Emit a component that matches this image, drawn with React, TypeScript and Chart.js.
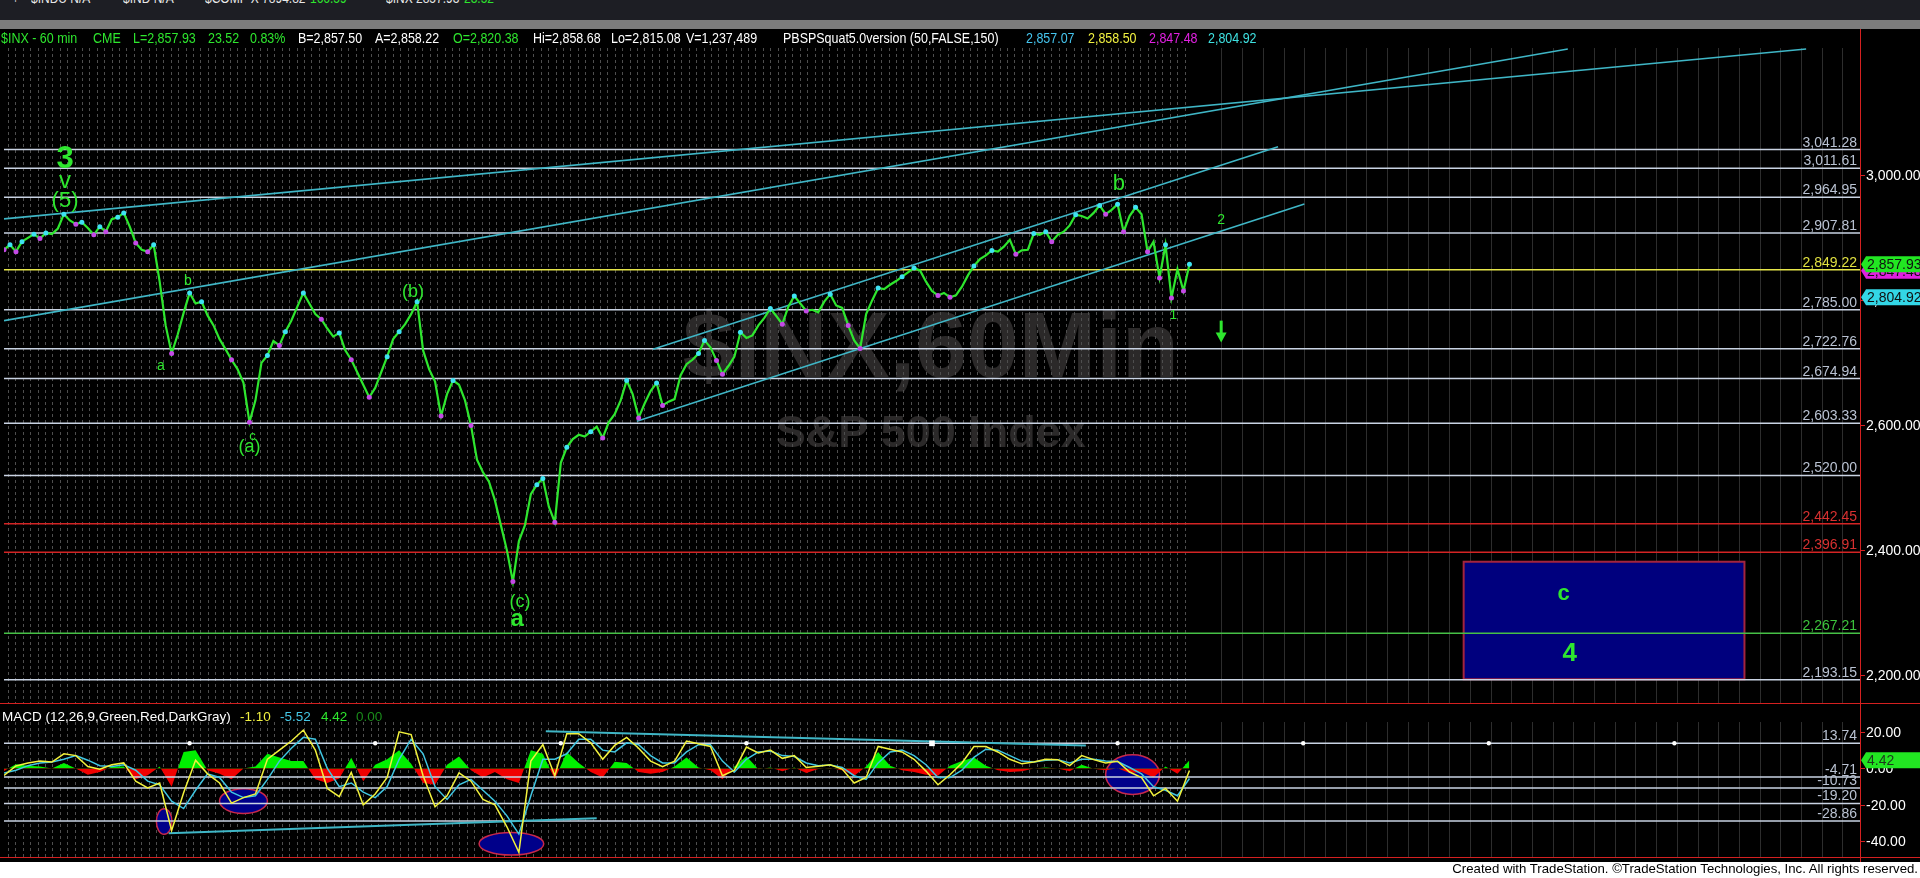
import React, { useEffect, useRef } from "react";
import { Chart, registerables } from "chart.js";

Chart.register(...registerables);

const FONT = "'Liberation Sans', Arial, Helvetica, sans-serif";

// ---------------- DATA ----------------
// hourly closes of $INX (one value per bar index)
const priceClose = [
  2881, 2889, 2878, 2894, 2900, 2906, 2899, 2908, 2906, 2915,
  2938, 2928, 2922, 2925, 2916, 2905, 2918, 2910, 2930, 2933,
  2940, 2918, 2892, 2881, 2878, 2889, 2830, 2760, 2715, 2745,
  2780, 2812, 2795, 2798, 2776, 2760, 2738, 2722, 2705, 2690,
  2668, 2605, 2640, 2700, 2712, 2735, 2728, 2750, 2768, 2790,
  2812, 2795, 2778, 2770, 2755, 2742, 2748, 2720, 2705, 2685,
  2665, 2645, 2660, 2685, 2710, 2738, 2750, 2762, 2778, 2798,
  2720, 2690, 2670, 2615, 2650, 2672, 2665, 2640, 2600, 2545,
  2525, 2510, 2480, 2440, 2400, 2350, 2415, 2440, 2490, 2505,
  2515, 2470, 2445, 2540, 2565, 2578, 2585, 2582, 2590, 2598,
  2580, 2605, 2618, 2640, 2672, 2650, 2612, 2635, 2655, 2668,
  2632, 2638, 2642, 2680, 2698, 2705, 2715, 2736, 2725, 2704,
  2682, 2695, 2710, 2749, 2740, 2744, 2760, 2772, 2787, 2775,
  2762, 2790, 2807, 2795, 2783, 2785, 2781, 2798, 2810, 2792,
  2788, 2760, 2736, 2723, 2778, 2800, 2820, 2818, 2825, 2831,
  2838, 2845, 2852, 2848, 2830, 2815, 2808, 2812, 2805, 2808,
  2822, 2840, 2855, 2866, 2872, 2880, 2878, 2886, 2897, 2874,
  2880, 2881, 2907, 2905, 2910, 2894, 2905, 2910, 2920, 2937,
  2935, 2931, 2940, 2952, 2938, 2945, 2954, 2910, 2935, 2949,
  2938, 2878, 2894, 2836, 2889, 2804, 2850, 2815, 2858,
];
// PBSPSquat dots (bar indices)
const cyanDotIdx = [1, 3, 5, 7, 10, 13, 16, 19, 20, 25, 31, 33, 44, 47, 50, 56, 64, 66, 69, 75, 89, 90, 94, 98, 104, 109, 116, 117, 123, 128, 132, 138, 146, 150, 152, 162, 165, 172, 174, 179, 183, 186, 189, 194, 198];
const magentaDotIdx = [0, 2, 6, 12, 15, 17, 22, 24, 28, 38, 41, 46, 53, 58, 61, 73, 78, 85, 92, 100, 106, 110, 119, 120, 130, 134, 141, 143, 156, 158, 169, 175, 184, 187, 191, 193, 195, 197];

const priceLevels = [3041.28, 3011.61, 2964.95, 2907.81, 2849.22, 2785.0, 2722.76, 2674.94, 2603.33, 2520.0, 2442.45, 2396.91, 2267.21, 2193.15];
const priceLevelKind = ["w", "w", "w", "w", "y", "w", "w", "w", "w", "w", "r", "r", "g", "w"];
const priceAxisTicks = [3000, 2800, 2600, 2400, 2200];
// [index0, price0, index1, price1]
const priceTrendlines = [
  [0, 2930.4, 301, 3202.4],
  [0, 2767.6, 261.2, 3202.4],
  [108.4, 2722.0, 212.8, 3045.8],
  [105.7, 2606.6, 217.2, 2954.2],
];
const priceTagValues = [2847.48, 2857.93, 2804.92];
const priceTagKind = ["m", "g", "c"];

const targetBoxIdx = [243.8, 290.7];
const targetBoxPrice = [2193.7, 2381.8];

const waveLabelText = ["3", "v", "(5)", "b", "a", "c", "(a)", "(b)", "(c)", "a", "b", "2", "1", "c", "4"];
const waveLabelIdx = [10.2, 10.2, 10.2, 30.7, 26.2, 41.5, 41, 68.3, 86.2, 85.7, 186.2, 203.3, 195.3, 260.5, 261.5];
const waveLabelPrice = [3025, 2990, 2959, 2831, 2695, 2582.6, 2565, 2813.4, 2317, 2289, 2987, 2929, 2775.5, 2329.6, 2234.8];
const downArrow = [203.3, 2767.6, 2732.8];

// MACD (one value every 2 bars)
const macdLine = [
  -3.9, 1.3, 3, 4, 3.5, 8, 7, 1, -0.5, 2,
  3, -7, -10.7, -8, -34, -13.3, 4.5, -3, -8, -19,
  -16, -14, 5, 10, 15, 21, 10, -11, -15.5, -2.2,
  -20, -14, -5, 20, 18.5, -4, -21, -15, -2.5, -7,
  -17, -20, -32, -46, 4, 13, -4, 19, 19, 14,
  5, 12.6, 17, 11, 4, 1, 4, 15, 13.5, 12,
  -4, -1, 11.7, 8.5, 10, 5.5, 7, 0.5, 1.2, 2,
  -0.4, -8, -5, 12, 10.5, 9, 5, -1.5, -9, -3.5,
  3, 12, 12, 9, 5, 2.5, 3.5, 5, 4.8, 1.5,
  7, 4.8, 3, 3.9, -2, -5, -15, -11, -18, -1.1,
];
const macdSignal = [
  -2.5, -1, 1.5, 3, 3.5, 5, 7, 4.5, 1.5, 1,
  2, -1, -7, -9, -18, -22, -12, -3, -5, -13,
  -16, -15, -6, 4, 11, 17, 16, 0, -10, -8,
  -13, -16, -10, 5, 16, 8, -10, -17, -9, -6,
  -12, -18, -26, -36, -15, 5, 5, 8, 16, 16,
  10, 9, 14, 13, 7, 3, 3, 9, 13, 13,
  4, -2, 5, 9, 9.5, 7, 6.5, 3, 1.5, 1.8,
  0.5, -4, -6, 3, 9, 10, 7, 2, -5, -5,
  -1, 6, 10.5, 10, 7, 4, 3.5, 4.5, 4.8, 3,
  5, 5, 4, 3.8, 0.5, -3, -10, -12, -15, -5.52,
];
const macdHist = [
  -1.4, 2.3, 1.5, 1, 0, 3, 0, -3.5, -2, 1,
  1, -6, -3.7, 1, -10, 9, 10, -1, -3, -6,
  0, 1, 8, 6, 4, 4, -6, -8, -5.5, 5.8,
  -7, 2, 5, 10, 2.5, -8, -9, 2, 6.5, -1,
  -5, -2, -6, -8, 10, 8, -6, 9, 3, -2,
  -5, 3.6, 3, -2, -3, -2, 1, 6, 0.5, -1,
  -6, 1, 6.7, -0.5, 0.5, -1.5, 0.5, -2.5, -0.3, 0.2,
  -1, -4, 1, 9, 1.5, -1, -2, -3.5, -4, 1.5,
  4, 6, 1.5, -1, -2, -1.5, 0, 0.5, 0, -1.5,
  2, -0.2, -1, 0.1, -2.5, -2, -5, 1, -3, 4.42,
];
const macdLevels = [13.74, -4.71, -10.73, -19.2, -28.86];
const macdAxisTicks = [20, 0, -20, -40];
const macdTrendlines = [
  [27.5, -35.5, 99, -27.3],
  [90.5, 20.4, 180.7, 12.6],
];
const macdHandleIdx = [31, 62, 93, 124, 155, 186, 217, 248, 279];
const macdTagValue = 4.42;
// ellipses: [centerIdx, centerValue, radiusIdx, radiusValue]
const macdEllipses = [
  [26.75, -29.1, 1.3, 7],
  [40, -17.9, 4, 6.8],
  [84.75, -41.3, 5.4, 6.2],
  [188.5, -3.4, 4.5, 10.9],
];

// ---------------- STYLE ----------------
const X_MAX = 310;
const GREEN = "#2ee62e";
const LEVEL_LINE: any = { w: "#c9d3e3", y: "#e6e64a", r: "#d42424", g: "#46c046" };
const LEVEL_TEXT: any = { w: "#b9c2d2", y: "#e0e040", r: "#d83030", g: "#3cc43c" };
const TAG_BG: any = { g: "#22e622", m: "#e020e0", c: "#33d6e6" };
const WAVE_FONT = ["bold 31px", "24px", "22px", "14px", "14px", "13px", "18px", "18px", "18px", "bold 24px", "22px", "14px", "13px", "bold 22px", "bold 26px"];
const fmt = (v: number) => v.toLocaleString("en-US", { minimumFractionDigits: 2, maximumFractionDigits: 2 });

function drawVGrid(chart: any, yTop: number) {
  const { ctx, chartArea: a, scales } = chart;
  const dataEnd = scales.x.getPixelForValue(priceClose.length - 1) + 1;
  ctx.save();
  ctx.lineWidth = 1;
  ctx.strokeStyle = "#4e4e4e";
  ctx.setLineDash([3, 3]);
  ctx.beginPath();
  for (let px = a.left + 4; px < dataEnd; px += 7.4) {
    const X = Math.round(px) + 0.5;
    ctx.moveTo(X, yTop);
    ctx.lineTo(X, a.bottom);
  }
  ctx.stroke();
  ctx.setLineDash([]);
  ctx.strokeStyle = "#2d2d2d";
  ctx.beginPath();
  for (let px = dataEnd + 31; px < a.right; px += 20.7) {
    const X = Math.round(px) + 0.5;
    ctx.moveTo(X, yTop);
    ctx.lineTo(X, a.bottom);
  }
  ctx.stroke();
  ctx.restore();
}

function drawTag(ctx: any, left: number, py: number, text: string, bg: string, fg: string) {
  ctx.save();
  ctx.fillStyle = bg;
  ctx.beginPath();
  ctx.moveTo(left + 1, py);
  ctx.lineTo(left + 6, py - 8);
  ctx.lineTo(1920, py - 8);
  ctx.lineTo(1920, py + 8);
  ctx.lineTo(left + 6, py + 8);
  ctx.closePath();
  ctx.fill();
  ctx.fillStyle = fg;
  ctx.font = `14px ${FONT}`;
  ctx.textBaseline = "middle";
  ctx.textAlign = "left";
  ctx.fillText(text, left + 7, py + 1);
  ctx.restore();
}

function drawAxis(chart: any, ticks: number[]) {
  const { ctx, chartArea: a, scales } = chart;
  ctx.save();
  ctx.strokeStyle = "#d42020";
  ctx.lineWidth = 1;
  ctx.beginPath();
  ctx.moveTo(a.right + 0.5, 0);
  ctx.lineTo(a.right + 0.5, chart.height);
  ctx.moveTo(0, a.bottom - 0.5);
  ctx.lineTo(chart.width, a.bottom - 0.5);
  ticks.forEach((v) => {
    const py = Math.round(scales.y.getPixelForValue(v)) + 0.5;
    ctx.moveTo(a.right, py);
    ctx.lineTo(a.right + 5, py);
  });
  ctx.stroke();
  ctx.fillStyle = "#ffffff";
  ctx.font = `14px ${FONT}`;
  ctx.textBaseline = "middle";
  ctx.textAlign = "left";
  ticks.forEach((v) => ctx.fillText(fmt(v), a.right + 6, scales.y.getPixelForValue(v) + 1));
  ctx.restore();
}

function drawLevelLabels(chart: any, levels: number[], kinds: string[]) {
  const { ctx, chartArea: a, scales } = chart;
  ctx.save();
  ctx.font = `14px ${FONT}`;
  ctx.textAlign = "right";
  ctx.textBaseline = "alphabetic";
  levels.forEach((v, i) => {
    ctx.fillStyle = LEVEL_TEXT[kinds[i]];
    ctx.fillText(fmt(v), a.right - 3, scales.y.getPixelForValue(v) - 3);
  });
  ctx.restore();
}

const pricePlugin = {
  id: "priceDecor",
  beforeDatasetsDraw(chart: any) {
    const { ctx, scales } = chart;
    const { x, y } = scales;
    ctx.save();
    ctx.fillStyle = "#2b2929";
    ctx.textAlign = "center";
    ctx.textBaseline = "alphabetic";
    ctx.font = `bold 93px ${FONT}`;
    ctx.fillText("$INX,60Min", x.getPixelForValue(154.8), y.getPixelForValue(2677));
    ctx.font = `bold 45px ${FONT}`;
    ctx.fillText("S&P 500 Index", x.getPixelForValue(154.8), y.getPixelForValue(2566));
    ctx.restore();
    drawVGrid(chart, 8);
    const bx0 = x.getPixelForValue(targetBoxIdx[0]);
    const bx1 = x.getPixelForValue(targetBoxIdx[1]);
    const by0 = y.getPixelForValue(targetBoxPrice[1]);
    const by1 = y.getPixelForValue(targetBoxPrice[0]);
    ctx.save();
    ctx.fillStyle = "#00007e";
    ctx.fillRect(bx0, by0, bx1 - bx0, by1 - by0);
    ctx.strokeStyle = "#a4243e";
    ctx.lineWidth = 2;
    ctx.strokeRect(bx0, by0, bx1 - bx0, by1 - by0);
    ctx.restore();
  },
  afterDatasetsDraw(chart: any) {
    const { ctx, scales } = chart;
    const { x, y } = scales;
    drawLevelLabels(chart, priceLevels, priceLevelKind);
    ctx.save();
    ctx.fillStyle = GREEN;
    ctx.textAlign = "center";
    ctx.textBaseline = "middle";
    waveLabelText.forEach((t, i) => {
      ctx.font = `${WAVE_FONT[i]} ${FONT}`;
      ctx.fillText(t, x.getPixelForValue(waveLabelIdx[i]), y.getPixelForValue(waveLabelPrice[i]));
    });
    const ax = x.getPixelForValue(downArrow[0]);
    const ay0 = y.getPixelForValue(downArrow[1]);
    const ay1 = y.getPixelForValue(downArrow[2]);
    ctx.fillRect(ax - 1.5, ay0, 3, ay1 - ay0 - 9);
    ctx.beginPath();
    ctx.moveTo(ax - 5.5, ay1 - 10);
    ctx.lineTo(ax + 5.5, ay1 - 10);
    ctx.lineTo(ax, ay1);
    ctx.closePath();
    ctx.fill();
    ctx.restore();
  },
  afterDraw(chart: any) {
    drawAxis(chart, priceAxisTicks);
    const { ctx, chartArea: a, scales } = chart;
    priceTagValues.forEach((v, i) => {
      drawTag(ctx, a.right, scales.y.getPixelForValue(v), fmt(v), TAG_BG[priceTagKind[i]], "#101010");
    });
  },
};

const macdPlugin = {
  id: "macdDecor",
  beforeDatasetsDraw(chart: any) {
    const { ctx, scales } = chart;
    const { x, y } = scales;
    drawVGrid(chart, 14);
    ctx.save();
    macdEllipses.forEach(([cx, cy, rx, ry]) => {
      const px = x.getPixelForValue(cx);
      const py = y.getPixelForValue(cy);
      const prx = Math.abs(x.getPixelForValue(cx + rx) - px);
      const pry = Math.abs(y.getPixelForValue(cy + ry) - py);
      ctx.beginPath();
      ctx.ellipse(px, py, prx, pry, 0, 0, Math.PI * 2);
      ctx.fillStyle = "#00008a";
      ctx.fill();
      ctx.strokeStyle = "#c8284a";
      ctx.lineWidth = 1.5;
      ctx.stroke();
    });
    ctx.restore();
  },
  afterDatasetsDraw(chart: any) {
    drawLevelLabels(chart, macdLevels, macdLevels.map(() => "w"));
  },
  afterDraw(chart: any) {
    drawAxis(chart, macdAxisTicks);
    const { ctx, chartArea: a, scales } = chart;
    drawTag(ctx, a.right, scales.y.getPixelForValue(macdTagValue), fmt(macdTagValue), TAG_BG.g, "#1e3a1e");
  },
};

const lineSeg = (seg: number[], color: string, width: number, order: number) => ({
  type: "line",
  data: [
    { x: seg[0], y: seg[1] },
    { x: seg[2], y: seg[3] },
  ],
  borderColor: color,
  borderWidth: width,
  pointRadius: 0,
  fill: false,
  order,
});

const baseOptions = (yMin: number, yMax: number) => ({
  animation: false,
  responsive: false,
  maintainAspectRatio: false,
  devicePixelRatio: 1,
  events: [],
  layout: { padding: { left: 0, top: 0, bottom: 0, right: 60 } },
  plugins: { legend: { display: false }, tooltip: { enabled: false } },
  scales: {
    x: { type: "linear", min: 0, max: X_MAX, display: false },
    y: { type: "linear", min: yMin, max: yMax, display: false },
  },
  elements: { line: { tension: 0 } },
});

const topTicker = [
  { t: "+", x: 12, c: "#cfcfcf" },
  { t: "$INDU N/A", x: 31, c: "#e8e8e8" },
  { t: "$IND N/A", x: 123, c: "#e8e8e8" },
  { t: "$COMP X 7894.82", x: 205, c: "#e8e8e8" },
  { t: "166.59", x: 310, c: GREEN },
  { t: "$INX 2857.93", x: 386, c: "#e8e8e8" },
  { t: "23.52", x: 464, c: GREEN },
];
const headerItems = [
  { t: "$INX - 60 min", x: 1, c: GREEN },
  { t: "CME", x: 93, c: GREEN },
  { t: "L=2,857.93", x: 133, c: GREEN },
  { t: "23.52", x: 208, c: GREEN },
  { t: "0.83%", x: 250, c: GREEN },
  { t: "B=2,857.50", x: 298, c: "#ffffff" },
  { t: "A=2,858.22", x: 375, c: "#ffffff" },
  { t: "O=2,820.38", x: 453, c: GREEN },
  { t: "Hi=2,858.68", x: 533, c: "#ffffff" },
  { t: "Lo=2,815.08", x: 611, c: "#ffffff" },
  { t: "V=1,237,489", x: 686, c: "#ffffff" },
  { t: "PBSPSquat5.0version (50,FALSE,150)", x: 783, c: "#ffffff" },
  { t: "2,857.07", x: 1026, c: "#45c4ee" },
  { t: "2,858.50", x: 1088, c: "#f0f040" },
  { t: "2,847.48", x: 1149, c: "#e020e0" },
  { t: "2,804.92", x: 1208, c: "#3ee0e0" },
];
const macdHeader = [
  { t: "MACD (12,26,9,Green,Red,DarkGray)", x: 2, c: "#ffffff" },
  { t: "-1.10", x: 240, c: "#f0f040" },
  { t: "-5.52", x: 280, c: "#45c8e6" },
  { t: "4.42", x: 321, c: GREEN },
  { t: "0.00", x: 356, c: "#1a8a1a" },
];

export default function App() {
  const priceRef = useRef<HTMLCanvasElement>(null);
  const macdRef = useRef<HTMLCanvasElement>(null);

  useEffect(() => {
    document.body.style.margin = "0";
    document.body.style.background = "#000";
    const cyanSet = new Set(cyanDotIdx);
    const magSet = new Set(magentaDotIdx);

    const priceDatasets: any[] = [
      ...priceLevels.map((v, i) => lineSeg([0, v, X_MAX, v], LEVEL_LINE[priceLevelKind[i]], 1.5, 5)),
      ...priceTrendlines.map((s) => lineSeg(s, "#3fb6c6", 1.6, 3)),
      {
        type: "line",
        data: priceClose.map((v, i) => ({ x: i, y: v })),
        borderColor: GREEN,
        borderWidth: 2.2,
        fill: false,
        pointRadius: (c: any) => (cyanSet.has(c.dataIndex) || magSet.has(c.dataIndex) ? 2.5 : 0),
        pointBackgroundColor: (c: any) => (cyanSet.has(c.dataIndex) ? "#3fe2f2" : "#c44ae6"),
        pointBorderWidth: 0,
        order: 0,
      },
    ];

    const priceChart = new Chart(priceRef.current as any, {
      type: "line",
      data: { datasets: priceDatasets },
      options: baseOptions(2154.15, 3210.3) as any,
      plugins: [pricePlugin as any],
    });

    const macdDatasets: any[] = [
      {
        type: "line",
        data: macdHist.map((v, k) => ({ x: k * 2, y: v })),
        borderColor: "rgba(0,0,0,0)",
        borderWidth: 0,
        pointRadius: 0,
        fill: { target: "origin", above: "#00f000", below: "#f00000" },
        order: 6,
      },
      ...macdLevels.map((v) => lineSeg([0, v, X_MAX, v], LEVEL_LINE.w, 1.5, 5)),
      ...macdTrendlines.map((s) => lineSeg(s, "#3fb6c6", 2, 4)),
      {
        type: "line",
        data: macdSignal.map((v, k) => ({ x: k * 2, y: v })),
        borderColor: "#40c6e2",
        borderWidth: 1.5,
        pointRadius: 0,
        fill: false,
        order: 2,
      },
      {
        type: "line",
        data: macdLine.map((v, k) => ({ x: k * 2, y: v })),
        borderColor: "#f2f23c",
        borderWidth: 1.5,
        pointRadius: 0,
        fill: false,
        order: 1,
      },
      {
        type: "line",
        data: macdHandleIdx.map((i) => ({ x: i, y: macdLevels[0] })),
        showLine: false,
        pointRadius: (c: any) => (c.dataIndex === 4 ? 4 : 2.2),
        pointStyle: (c: any) => (c.dataIndex === 4 ? "rect" : "circle"),
        pointBackgroundColor: "#ffffff",
        pointBorderWidth: 0,
        order: 0,
      },
    ];

    const macdChart = new Chart(macdRef.current as any, {
      type: "line",
      data: { datasets: macdDatasets },
      options: baseOptions(-49.1, 30.9) as any,
      plugins: [macdPlugin as any],
    });

    return () => {
      priceChart.destroy();
      macdChart.destroy();
    };
  }, []);

  const span = (it: any, top: number, size: number, squeeze = 1) => (
    <span
      key={it.t + it.x}
      style={{
        position: "absolute",
        left: it.x,
        top,
        color: it.c,
        fontSize: size,
        lineHeight: "16px",
        whiteSpace: "nowrap",
        transform: `scaleX(${squeeze})`,
        transformOrigin: "0 0",
      }}
    >
      {it.t}
    </span>
  );

  return (
    <div style={{ position: "relative", width: 1920, height: 878, background: "#000", overflow: "hidden", fontFamily: FONT }}>
      <canvas ref={priceRef} width={1920} height={668} style={{ position: "absolute", left: 0, top: 40 }} />
      <canvas ref={macdRef} width={1920} height={154} style={{ position: "absolute", left: 0, top: 708 }} />
      <div style={{ position: "absolute", left: 0, top: 0, width: 1920, height: 20, background: "#1d1e24", overflow: "hidden" }}>
        {topTicker.map((it) => span(it, -10, 15, 0.8))}
      </div>
      <div style={{ position: "absolute", left: 0, top: 20, width: 1920, height: 9, background: "#7c7c7c" }} />
      <div style={{ position: "absolute", left: 1860, top: 29, width: 1, height: 12, background: "#d42020" }} />
      {headerItems.map((it) => span(it, 30, 14.5, 0.86))}
      {macdHeader.map((it) => span(it, 709, 13.5))}
      <div
        style={{
          position: "absolute",
          left: 0,
          top: 862,
          width: 1920,
          height: 16,
          background: "#ffffff",
          color: "#000",
          fontSize: 13.2,
          lineHeight: "13px",
          textAlign: "right",
          paddingRight: 2,
          boxSizing: "border-box",
          whiteSpace: "nowrap",
        }}
      >
        Created with TradeStation. ©TradeStation Technologies, Inc. All rights reserved.
      </div>
    </div>
  );
}
